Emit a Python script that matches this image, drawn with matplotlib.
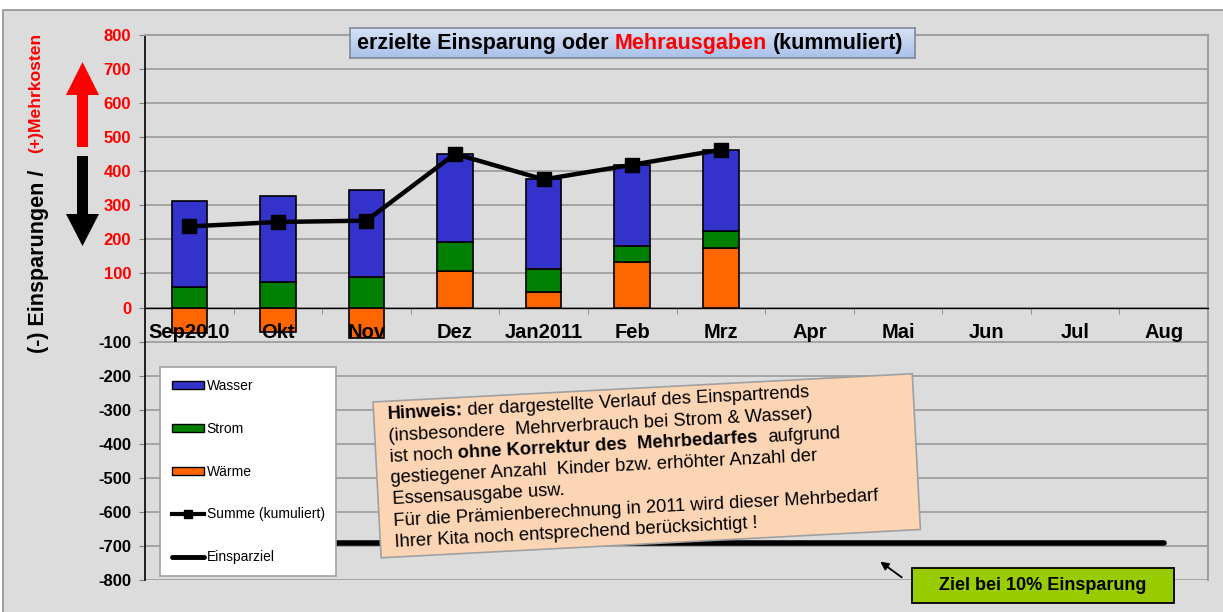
import matplotlib
matplotlib.use("Agg")
import matplotlib.pyplot as plt
from matplotlib.patches import Rectangle, Polygon, Patch, FancyArrowPatch
from matplotlib.lines import Line2D
from matplotlib.colors import LinearSegmentedColormap
import numpy as np

plt.rcParams['font.family'] = ['Liberation Sans', 'DejaVu Sans']

# data
months = ['Sep2010', 'Okt', 'Nov', 'Dez', 'Jan2011', 'Feb', 'Mrz',
          'Apr', 'Mai', 'Jun', 'Jul', 'Aug']
waerme = [-75, -73, -91, 106, 45, 133, 174]
strom = [60, 74, 90, 85, 68, 49, 50]
wasser = [254, 252, 256, 260, 264, 237, 239]
summe = [238, 251, 255, 451, 376, 419, 463]
einsparziel = [-690, -690, -690, -690, -690, -690, -690, -690, -690, -690, -690, -690]
yticks = list(range(-800, 801, 100))

# note text: (text, bold, spaces before)
note_lines = [
    [("Hinweis:", True, 0), ("der dargestellte Verlauf des Einspartrends", False, 1)],
    [("(insbesondere  Mehrverbrauch bei Strom & Wasser)", False, 0)],
    [("ist noch", False, 0), ("ohne Korrektur des  Mehrbedarfes", True, 1), ("aufgrund", False, 2)],
    [("gestiegener Anzahl  Kinder bzw. erhöhter Anzahl der", False, 0)],
    [("Essensausgabe usw.", False, 0)],
    [("Für die Prämienberechnung in 2011 wird dieser Mehrbedarf", False, 0)],
    [("Ihrer Kita noch entsprechend berücksichtigt !", False, 0)],
]

W, H = 1223, 612
BG = '#dcdcdc'
GRID = '#a0a0a0'
C_WASSER, C_STROM, C_WAERME = '#3333cc', '#008000', '#ff6600'


def fx(x):
    return x / W


def fy(y):
    return 1 - y / H


fig = plt.figure(figsize=(W / 100, H / 100), dpi=100, facecolor='white')
renderer = fig.canvas.get_renderer()
fig.patches.append(Rectangle((fx(3), fy(615)), fx(1225) - fx(3), fy(10) - fy(615),
                             transform=fig.transFigure, fc=BG, ec='#909090', lw=1.2, zorder=-10))

ax = fig.add_axes([fx(145), fy(580), fx(1208) - fx(145), fy(35) - fy(580)])
ax.set_facecolor(BG)

x = np.arange(len(months))
n = len(waerme)
bw = 0.4
ax.bar(x[:n], waerme, width=bw, color=C_WAERME, edgecolor='black', lw=1.2, zorder=3)
base_strom = np.clip(waerme, 0, None)
ax.bar(x[:n], strom, width=bw, bottom=base_strom, color=C_STROM, edgecolor='black', lw=1.2, zorder=3)
ax.bar(x[:n], wasser, width=bw, bottom=base_strom + np.array(strom), color=C_WASSER,
       edgecolor='black', lw=1.2, zorder=3)
ax.plot(x[:n], summe, color='black', lw=3.2, marker='s', ms=10, zorder=5)
ax.plot(x, einsparziel, color='black', lw=4, solid_capstyle='round', zorder=2)

ax.set_xlim(-0.5, len(months) - 0.5)
ax.set_ylim(-800, 800)
ax.set_yticks(yticks)
ax.set_yticklabels([str(v) for v in yticks])
for lab, v in zip(ax.get_yticklabels(), yticks):
    lab.set_color('red' if v >= 0 else 'black')
    lab.set_fontweight('bold')
    lab.set_fontsize(12)
ax.tick_params(axis='y', length=4, color='#808080', pad=6)
ax.yaxis.grid(True, color=GRID, lw=1.3)
ax.set_axisbelow(True)

ax.set_xticks(x)
ax.set_xticklabels([''] * len(months))
ax.set_xticks(np.arange(0.5, len(months) - 0.5, 1), minor=True)
ax.tick_params(axis='x', which='major', length=0)
ax.tick_params(axis='x', which='minor', length=4, color='#808080')
for i, m in enumerate(months):
    ax.annotate(m, xy=(i, 0), xytext=(0, -11), textcoords='offset points',
                ha='center', va='top', fontsize=14.5, fontweight='bold', zorder=7)

ax.spines['bottom'].set_position(('data', 0))
ax.spines['bottom'].set_color('black')
ax.spines['bottom'].set_linewidth(1.0)
ax.spines['left'].set_color('black')
ax.spines['left'].set_linewidth(1.2)
for s in ('top', 'right'):
    ax.spines[s].set_color(GRID)
    ax.spines[s].set_linewidth(1.5)

# legend
handles = [Patch(fc=C_WASSER, ec='black'), Patch(fc=C_STROM, ec='black'),
           Patch(fc=C_WAERME, ec='black'),
           Line2D([], [], color='black', lw=3, marker='s', ms=6),
           Line2D([], [], color='black', lw=3.5, solid_capstyle='round')]
labels = ['Wasser', 'Strom', 'Wärme', 'Summe (kumuliert)', 'Einsparziel']
leg = fig.legend(handles, labels, loc='upper left', bbox_to_anchor=(fx(160), fy(367)),
                 frameon=True, fancybox=False, edgecolor='#a0a0a0', framealpha=1,
                 fontsize=10, handlelength=2.3, handleheight=0.5, labelspacing=2.08,
                 borderpad=0.85, handletextpad=0.2, borderaxespad=0)
leg.get_frame().set_linewidth(1.2)

# title box with a light blue gradient
tax = fig.add_axes([fx(350), fy(58), fx(915) - fx(350), fy(28) - fy(58)])
tax.set_zorder(1)
grad_cmap = LinearSegmentedColormap.from_list('title', ['#a9c1e8', '#d6e2f5'])
tax.imshow(np.linspace(0, 1, 30).reshape(-1, 1)[::-1], cmap=grad_cmap, aspect='auto',
           extent=(0, 1, 0, 1))
tax.set_xticks([])
tax.set_yticks([])
for sp in tax.spines.values():
    sp.set_color('#7f8a99')
    sp.set_linewidth(1.2)
tkw = dict(fontsize=15.5, fontweight='bold', va='center', ha='left', zorder=5)
t1 = fig.text(fx(357), fy(43), 'erzielte Einsparung oder', **tkw)
bb = t1.get_window_extent(renderer)
t2 = fig.text((bb.x1 + 6) / W, fy(43), 'Mehrausgaben', color='red', **tkw)
bb = t2.get_window_extent(renderer)
fig.text((bb.x1 + 6) / W, fy(43), '(kummuliert)', **tkw)

# y label in two colours
fig.text(fx(28), fy(353), '(-) Einsparungen /', rotation=90, ha='left', va='bottom',
         fontsize=15.5, fontweight='bold')
fig.text(fx(28), fy(153), '(+)Mehrkosten', rotation=90, ha='left', va='bottom',
         fontsize=12.6, fontweight='bold', color='red')

# arrows
red_arrow = [(77, 147), (88, 147), (88, 95), (99, 95), (82.5, 62), (66, 95), (77, 95)]
blk_arrow = [(77, 156), (88, 156), (88, 214), (99, 214), (82.5, 246), (66, 214), (77, 214)]
fig.patches.append(Polygon([(fx(a), fy(b)) for a, b in red_arrow], closed=True,
                           transform=fig.transFigure, fc='red', ec='none'))
fig.patches.append(Polygon([(fx(a), fy(b)) for a, b in blk_arrow], closed=True,
                           transform=fig.transFigure, fc='black', ec='none'))

# rotated note box, laid out in display pixels (y up)
ang = 3.0
th = np.deg2rad(ang)
u = np.array([np.cos(th), np.sin(th)])
v = np.array([np.sin(th), -np.cos(th)])
tl = np.array([373.0, H - 402.0])
bw_px, bh_px = 540.0, 156.0
corners = [tl, tl + bw_px * u, tl + bw_px * u + bh_px * v, tl + bh_px * v]
fig.patches.append(Polygon([(c[0] / W, c[1] / H) for c in corners], closed=True,
                           transform=fig.transFigure, fc='#fcd5b5', ec='#a0a0a0', lw=1.2))
nfs = 13.2
space = 0.278 * nfs * 100 / 72
lh = 21.3
for k, line in enumerate(note_lines):
    pos = tl + 14 * u + (18 + k * lh) * v
    s = 0.0
    for txt, bold, gap in line:
        s += gap * space
        w = fig.text(0, 0, txt, fontsize=nfs, fontweight='bold' if bold else 'normal')
        width = w.get_window_extent(renderer).width
        w.remove()
        p = pos + s * u
        fig.text(p[0] / W, p[1] / H, txt, fontsize=nfs, fontweight='bold' if bold else 'normal',
                 rotation=ang, rotation_mode='anchor', ha='left', va='baseline')
        s += width

# target box
fig.patches.append(Rectangle((fx(912), fy(603)), fx(1174) - fx(912), fy(568) - fy(603),
                             transform=fig.transFigure, fc='#99cc00', ec='black', lw=1.3, zorder=4))
fig.text(fx(1043), fy(586), 'Ziel bei 10% Einsparung', ha='center', va='center',
         fontsize=13, fontweight='bold', zorder=6)
fig.add_artist(FancyArrowPatch((fx(904), fy(579)), (fx(878), fy(560)),
                               transform=fig.transFigure, arrowstyle='-|>',
                               mutation_scale=12, lw=1.3, color='black'))

fig.savefig('out.png', dpi=100, facecolor='white')
